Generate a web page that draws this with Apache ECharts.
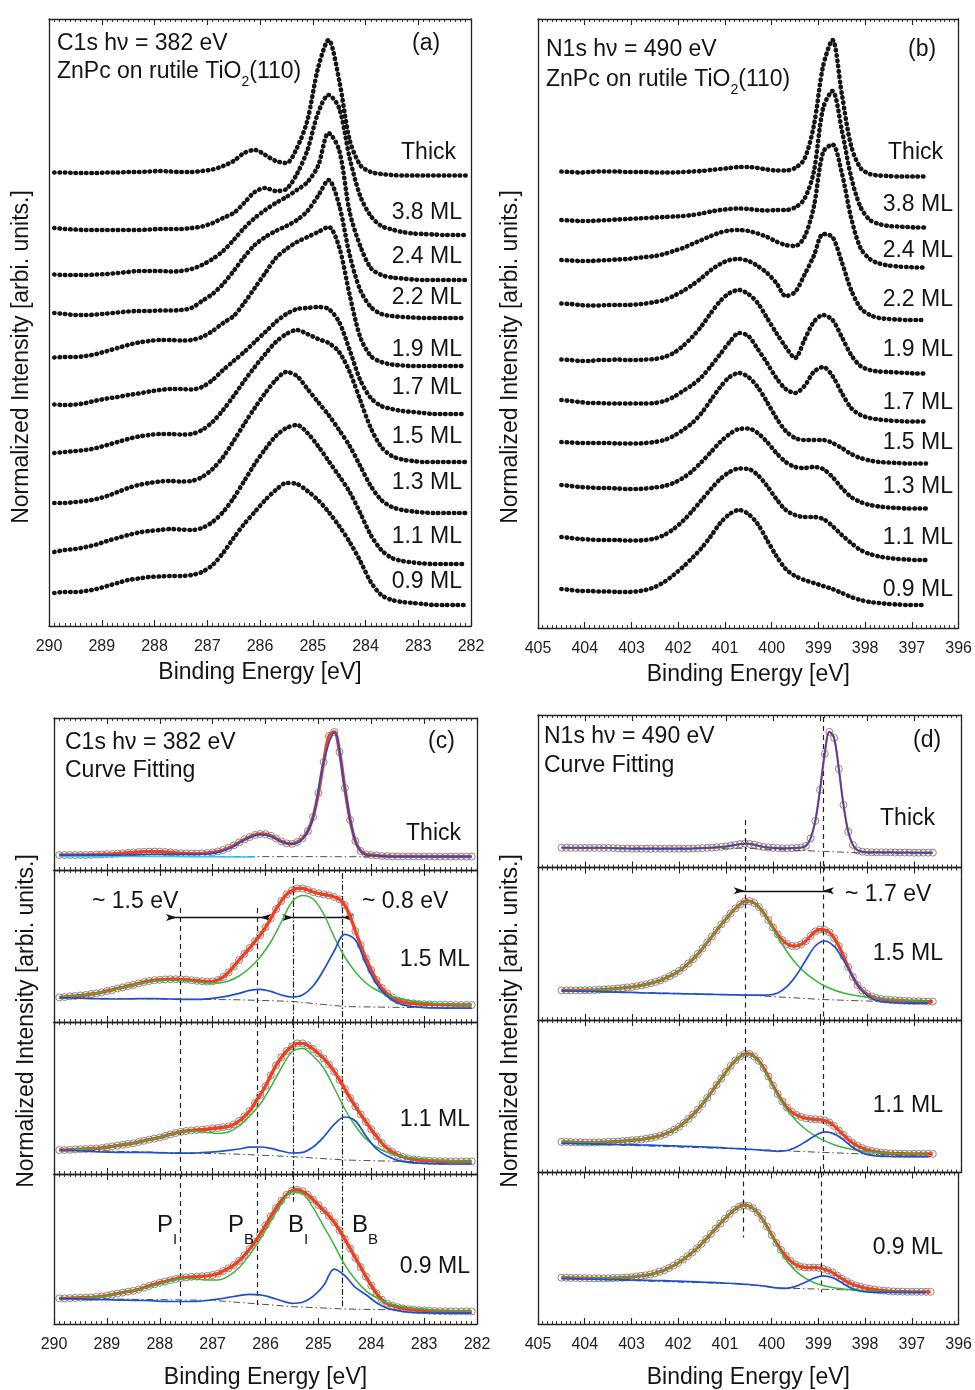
<!DOCTYPE html>
<html>
<head>
<meta charset="utf-8">
<script src="https://cdn.jsdelivr.net/npm/echarts@6/dist/echarts.min.js"></script>
<style>
  html, body { margin: 0; padding: 0; background: #fff; }
  #chart { width: 975px; height: 1390px; }
</style>
</head>
<body>
<div id="chart"></div>
<script>
// ---------- data ----------
// (a) C1s, binding energy grid (eV) and spectra (height above each curve's own baseline)
const energyA = [289.9,289.7,289.5,289.3,289.1,288.9,288.7,288.5,288.3,288.1,287.9,287.7,287.5,287.3,287.1,286.9,286.7,286.5,286.3,286.1,285.9,285.7,285.5,285.3,285.1,284.9,284.7,284.5,284.3,284.1,283.9,283.7,283.5,283.3,283.1,282.9,282.7,282.5,282.3,282.1];
const namesA = ['Thick','3.8 ML','2.4 ML','2.2 ML','1.9 ML','1.7 ML','1.5 ML','1.3 ML','1.1 ML','0.9 ML'];
const offsetsA = [90.1, 78.2, 69.2, 61.6, 52.0, 42.4, 32.8, 22.6, 12.4, 4.2];
const thickA = [0.6,0.6,0.5,0.5,0.5,0.6,0.6,0.7,0.7,0.8,0.9,0.8,0.7,0.7,0.9,1.2,1.9,2.9,4.5,5.1,4.1,2.9,2.5,5.5,11.1,21.5,27.1,19.1,7.1,2.1,0.7,0.3,0.1,0,0,0,0,0,0,0];
const ml38A = [1.4,1.2,1.1,1.0,1.0,1.0,1.0,1.0,1.0,1.1,1.2,1.2,1.2,1.4,1.7,2.4,3.4,4.4,6.4,8.6,9.4,8.8,9.2,12.2,17.0,24.4,28.0,25.4,15.4,7.8,3.8,1.8,1.1,0.6,0.3,0.2,0.1,0,0,0];
const ml24A = [1.1,1.0,1.0,1.0,1.1,1.2,1.4,1.6,1.8,1.8,1.8,1.7,1.8,2.2,3.0,4.2,5.8,8.0,10.4,12.4,14.0,15.4,16.6,18.0,19.6,22.8,29.4,26.0,13.6,6.8,2.4,1.0,0.5,0.3,0.1,0,0,0,0,0];
const ml22A = [1.0,0.8,0.6,0.6,0.7,0.9,1.1,1.3,1.4,1.4,1.5,1.5,1.6,2.0,3.4,4.8,6.8,9.4,12.2,14.6,16.2,17.4,18.4,19.6,21.4,24.4,27.6,22.6,12.6,5.6,2.2,0.8,0.4,0.2,0.1,0,0,0,0,0];
const ml19A = [1.7,1.8,1.8,2.0,2.4,3.0,3.6,4.2,4.7,5.0,5.2,5.2,5.1,5.2,5.8,7.0,8.6,10.0,12.6,15.6,18.6,21.6,23.4,24.8,25.8,26.8,27.8,23.8,14.2,5.8,2.0,0.8,0.3,0.1,0,0,0,0,0,0];
const ml17A = [1.9,1.8,1.9,2.2,2.7,3.1,3.4,3.8,4.1,4.5,4.8,5.0,5.0,4.9,5.4,6.8,8.8,10.6,12.4,14.4,16.4,18.4,20.0,21.0,21.2,21.4,21.0,18.4,12.8,6.8,3.2,1.6,1.0,0.6,0.4,0.2,0,0,0,0];
const ml15A = [1.8,2.0,2.2,2.4,2.8,3.4,4.0,4.6,5.1,5.4,5.6,5.6,5.5,5.6,6.4,8.0,10.4,13.2,16.2,19.0,21.6,24.0,25.6,26.4,25.6,24.6,23.8,22.0,18.0,12.4,6.8,3.0,1.2,0.5,0.2,0,0,0,0,0];
const ml13A = [2.0,2.0,2.2,2.4,2.8,3.4,4.2,5.0,5.6,6.0,6.3,6.4,6.3,6.4,7.2,8.8,11.2,14.4,17.8,21.0,24.0,26.6,28.2,27.4,24.8,22.2,19.6,16.6,13.4,9.4,5.4,2.6,1.2,0.6,0.3,0.1,0,0,0,0];
const ml11A = [2.4,2.8,3.0,3.4,3.9,4.6,5.2,5.8,6.3,6.6,6.8,7.0,6.9,6.8,7.2,8.4,10.4,13.2,16.6,20.0,23.0,25.6,27.2,27.8,26.2,23.6,20.6,17.6,14.4,10.2,5.8,2.8,1.2,0.6,0.3,0.1,0,0,0,0];
const ml09A = [2.4,2.6,2.6,2.8,3.2,3.8,4.4,5.0,5.3,5.6,5.7,5.8,5.8,6.0,6.6,8.0,10.4,13.4,16.2,18.6,21.0,23.0,24.4,24.2,22.8,21.0,18.6,15.8,12.6,8.8,4.6,2.0,1.0,0.6,0.4,0.2,0,0,0,0];

// (b) N1s
const energyB = [404.5,404.3,404.1,403.9,403.7,403.5,403.3,403.1,402.9,402.7,402.5,402.3,402.1,401.9,401.7,401.5,401.3,401.1,400.9,400.7,400.5,400.3,400.1,399.9,399.7,399.5,399.3,399.1,398.9,398.7,398.5,398.3,398.1,397.9,397.7,397.5,397.3,397.1,396.9,396.7];
const offsetsB = [90.3, 80.1, 72.1, 61.6, 50.9, 41.3, 32.9, 23.9, 13.6, 4.6];
const thickB = [1.0,0.9,0.8,0.9,1.0,1.0,1.0,0.9,0.9,0.9,0.8,0.8,0.8,0.9,1.0,1.1,1.3,1.5,1.7,1.9,1.9,1.7,1.4,1.2,1.2,1.7,3.5,10.1,22.1,27.3,16.5,6.1,1.7,0.5,0.2,0.1,0,0,0,0];
const ml38B = [1.5,1.4,1.3,1.3,1.4,1.5,1.6,1.7,1.8,1.9,2.0,2.1,2.2,2.3,2.5,2.8,3.2,3.5,3.7,3.8,3.7,3.5,3.4,3.5,3.5,4.0,5.7,11.1,23.9,27.3,19.5,10.1,4.1,1.5,0.7,0.3,0.2,0.1,0,0];
const ml24B = [1.5,1.4,1.3,1.3,1.4,1.5,1.6,1.7,1.9,2.1,2.3,2.7,3.3,3.9,4.7,5.5,6.3,7.0,7.4,7.5,7.3,6.8,6.1,5.2,4.5,4.3,6.1,12.1,23.1,24.6,18.9,9.9,3.9,1.7,0.8,0.4,0.2,0.1,0,0];
const ml22B = [3.3,3.2,3.0,2.9,2.9,3.0,3.0,3.0,3.1,3.3,3.6,4.0,4.8,5.8,7.0,8.4,10.0,11.2,12.0,12.2,11.8,10.8,9.4,7.4,4.8,5.6,9.0,12.8,17.2,16.6,11.6,6.0,2.4,1.0,0.4,0.2,0.1,0,0,0];
const ml19B = [2.8,2.7,2.5,2.5,2.7,2.7,2.8,2.7,2.7,2.8,2.9,3.3,4.1,5.5,7.3,9.5,12.1,14.5,16.1,16.7,15.9,14.1,11.1,8.1,5.3,3.1,6.7,10.3,11.7,10.7,7.3,3.7,1.5,0.7,0.4,0.3,0.2,0.1,0,0];
const ml17B = [4.3,4.1,3.9,3.7,3.7,3.6,3.6,3.6,3.6,3.6,3.7,4.1,4.9,6.1,7.3,8.9,11.1,13.5,15.9,17.7,17.1,14.5,11.7,8.7,6.5,5.7,7.1,9.9,10.9,9.1,5.7,2.7,1.3,0.7,0.4,0.2,0.1,0,0,0];
const ml15B = [4.3,4.2,4.1,4.1,4.1,4.1,4.0,4.0,4.0,4.1,4.3,4.7,5.5,6.7,8.1,10.1,12.7,15.3,17.3,18.1,17.3,15.3,12.3,9.1,6.5,5.1,4.7,4.7,4.7,4.1,3.1,1.9,1.1,0.6,0.3,0.2,0.1,0,0,0];
const ml13B = [4.7,4.5,4.3,4.2,4.1,4.1,4.0,3.9,3.9,4.0,4.2,4.5,5.1,6.1,7.5,9.3,11.3,13.3,14.9,15.9,16.0,15.1,13.3,11.1,9.3,8.3,8.1,8.3,7.9,6.3,4.1,2.3,1.3,0.7,0.4,0.2,0.1,0,0,0];
const ml11B = [4.6,4.4,4.2,4.1,4.0,4.0,4.0,3.9,3.9,4.0,4.3,5.0,6.2,7.8,9.8,12.0,14.2,16.2,17.6,18.3,18.2,17.0,14.8,12.2,10.0,9.0,8.6,8.6,8.2,6.8,5.0,3.4,2.0,1.2,0.7,0.4,0.2,0.1,0,0];
const ml09B = [3.2,3.0,2.8,2.8,2.7,2.7,2.6,2.6,2.7,3.0,3.6,4.6,6.0,7.6,9.4,11.4,13.8,16.4,18.2,19.0,18.2,16.2,13.0,9.8,7.2,5.8,5.0,4.4,3.8,3.2,2.4,1.6,1.0,0.6,0.4,0.2,0.1,0,0,0];

// (c) C1s curve fitting: measured points (0.1 eV) and fitted components (0.2 eV, on energyA)
const namesC = ['Thick','1.5 ML','1.1 ML','0.9 ML'];
const energyC = [289.9,289.8,289.7,289.6,289.5,289.4,289.3,289.2,289.1,289.0,288.9,288.8,288.7,288.6,288.5,288.4,288.3,288.2,288.1,288.0,287.9,287.8,287.7,287.6,287.5,287.4,287.3,287.2,287.1,287.0,286.9,286.8,286.7,286.6,286.5,286.4,286.3,286.2,286.1,286.0,285.9,285.8,285.7,285.6,285.5,285.4,285.3,285.2,285.1,285.0,284.9,284.8,284.7,284.6,284.5,284.4,284.3,284.2,284.1,284.0,283.9,283.8,283.7,283.6,283.5,283.4,283.3,283.2,283.1,283.0,282.9,282.8,282.7,282.6,282.5,282.4,282.3,282.2,282.1];
const cThick = [7.5,7.5,7.5,7.5,7.5,7.5,7.6,7.7,7.8,7.9, 8.0,8.2,8.4,8.6,8.8,9.0,9.1,9.2,9.2,9.2, 9.0,8.8,8.6,8.4,8.3,8.2,8.2,8.3,8.5,8.8, 9.3,10.0,11.0,12.3,13.8,15.3,16.5,17.5,18.0,17.9, 17.1,15.8,14.3,13.3,13.1,14.0,15.8,19.5,26.5,38.5, 54.0,67.0,69.0,59.0,41.0,25.0,14.5,9.5,7.8,7.5, 7.3,7.0,6.9,6.8,6.8,6.8,6.8,6.8,6.8,6.7, 6.7,6.7,6.7,6.7,6.7,6.7,6.7,6.7,6.7];
const c15 = [12.3,12.5,12.8,13.0,13.3,13.5,14.0,14.3,14.8,15.5, 16.0,16.8,17.3,18.0,18.5,19.3,20.0,20.5,20.9,21.1, 21.3,21.4,21.4,21.3,21.2,20.9,20.6,20.4,20.2,20.3, 21.0,22.5,24.8,27.8,31.0,34.0,37.0,40.3,43.5,47.3, 51.8,56.5,60.5,63.8,65.8,66.8,66.8,66.0,65.0,64.3, 63.8,63.3,62.5,61.3,58.5,52.8,45.5,38.5,31.8,26.0, 21.0,17.0,14.3,12.3,10.8,10.0,9.5,9.3,9.0,8.9, 8.8,8.7,8.7,8.6,8.6,8.5,8.5,8.5,8.5];
const c11 = [12.0,12.0,12.1,12.3,12.4,12.5,12.7,12.8,13.0,13.4, 13.8,14.2,14.6,15.0,15.4,16.0,16.6,17.2,17.7,18.3, 19.0,19.8,20.5,21.1,21.5,21.8,22.0,22.2,22.4,22.8, 23.0,23.4,23.8,24.8,26.5,28.8,31.5,35.5,39.5,44.0, 49.3,54.3,58.3,61.5,63.8,65.3,65.3,64.3,62.5,60.3, 57.8,54.8,51.3,47.0,42.5,38.0,33.8,29.8,26.0,22.3, 18.8,15.5,12.8,11.0,9.5,8.5,7.8,7.3,7.0,6.8, 6.6,6.5,6.4,6.4,6.3,6.3,6.3,6.3,6.3];
const c09 = [13.0,13.0,13.1,13.2,13.3,13.4,13.5,13.7,14.0,14.4, 14.9,15.4,15.9,16.4,16.8,17.5,18.4,19.3,20.1,20.9, 21.5,22.2,22.8,23.3,23.6,23.9,24.0,24.2,24.4,24.8, 25.5,26.8,28.2,29.8,32.0,34.8,38.0,41.5,45.5,50.0, 54.5,58.8,62.5,65.5,67.5,68.0,67.3,65.5,63.0,60.3, 57.5,54.8,51.5,47.5,43.0,38.3,33.5,28.8,24.0,19.5, 15.5,12.3,10.3,9.3,8.5,7.9,7.5,7.2,7.0,6.9, 6.7,6.6,6.5,6.5,6.4,6.4,6.4,6.4,6.4];
const cThickBlue = [7.4,7.4,7.4,7.4,7.4,7.4,7.5,7.6,7.7,7.8,7.8,7.8,7.8,7.8,8.0,8.8,10.6,13.5,16.3,17.8,17.0,14.2,13.0,15.6,26.3,53.8,68.8,40.8,14.3,7.6,7.1,6.8,6.7,6.7,6.7,6.7,6.7,6.7,6.7,6.7];
const c15Green = [12.3,12.8,13.3,14.0,14.8,16.0,17.3,18.5,19.8,20.5,20.8,20.8,20.5,20.0,19.5,19.5,20.5,23.0,27.0,32.5,40.0,50.0,60.0,63.3,61.5,54.0,42.5,32.5,25.0,19.5,16.0,13.5,12.0,10.8,10.0,9.5,9.1,8.9,8.7,8.5];
const c15Blue = [12.2,12.0,11.9,11.7,11.6,11.5,11.5,11.6,11.7,11.7,11.6,11.4,11.3,11.3,11.6,12.2,13.1,14.3,15.8,16.3,15.3,13.5,12.5,13.5,18.0,26.0,35.5,43.8,41.0,29.0,19.0,13.0,9.5,8.0,7.4,7.1,7.0,6.9,6.9,6.9];
const c11Green = [12.0,12.1,12.4,12.7,13.0,13.8,14.6,15.5,16.5,17.7,19.0,20.5,21.3,21.3,20.8,20.3,21.0,24.0,29.0,35.0,43.5,53.0,61.0,62.8,59.0,53.0,43.0,32.5,24.0,17.5,13.5,10.8,9.3,8.3,7.8,7.3,6.9,6.6,6.4,6.3];
const c11Blue = [12.0,11.8,11.5,11.3,11.0,10.9,10.8,10.8,10.8,10.7,10.5,10.4,10.4,10.5,10.8,11.2,11.8,12.5,13.4,13.5,12.8,11.5,10.5,10.8,13.5,18.5,24.8,28.5,26.5,19.0,12.5,9.0,6.8,5.8,5.4,5.2,5.1,5.0,5.0,5.0];
const c09Green = [13.0,13.0,13.2,13.4,13.8,14.6,15.6,16.8,18.1,19.5,21.0,22.5,23.0,22.8,22.3,22.3,24.3,28.5,35.0,43.0,52.0,60.8,67.0,66.0,59.0,49.5,40.0,30.0,22.5,16.8,13.3,10.8,9.3,8.4,7.8,7.3,6.9,6.7,6.5,6.4];
const c09Blue = [13.0,12.9,12.7,12.5,12.4,12.2,12.1,12.0,11.9,11.7,11.5,11.4,11.4,11.5,11.9,12.6,13.5,14.4,15.0,14.8,13.5,11.8,10.5,11.0,14.0,19.5,27.8,24.5,18.5,14.8,10.8,8.0,6.8,6.0,5.7,5.6,5.5,5.5,5.5,5.5];
const cThickCyanE = [289.9, 288.5, 287.2, 286.2];
const cThickCyan = [6.7, 6.7, 6.6, 6.5];
const cBgE = [[289.9, 286.2, 282.1], [289.9, 286.5, 285.5, 284.5, 282.1], [289.9, 286.6, 285.5, 284.5, 282.1], [289.9, 287.0, 285.5, 284.5, 282.1]];
const cBg = [[6.9, 6.7, 6.6], [12.1, 11.1, 10.3, 7.7, 6.8], [12.0, 10.0, 8.7, 7.0, 5.4], [13.0, 12.0, 8.8, 7.6, 6.4]];
const cMarks = [287.62, 286.16, 285.47, 284.54];   // P_I, P_B, B_I, B_B

// (d) N1s curve fitting (points on 0.1 eV grid, components on energyB)
const energyD = [404.5,404.4,404.3,404.2,404.1,404.0,403.9,403.8,403.7,403.6,403.5,403.4,403.3,403.2,403.1,403.0,402.9,402.8,402.7,402.6,402.5,402.4,402.3,402.2,402.1,402.0,401.9,401.8,401.7,401.6,401.5,401.4,401.3,401.2,401.1,401.0,400.9,400.8,400.7,400.6,400.5,400.4,400.3,400.2,400.1,400.0,399.9,399.8,399.7,399.6,399.5,399.4,399.3,399.2,399.1,399.0,398.9,398.8,398.7,398.6,398.5,398.4,398.3,398.2,398.1,398.0,397.9,397.8,397.7,397.6,397.5,397.4,397.3,397.2,397.1,397.0,396.9,396.8,396.7,396.6];
const dThick = [9.9,9.9,9.8,9.8,9.8,9.8,9.8,9.8,9.8,9.8, 9.8,9.7,9.6,9.5,9.5,9.4,9.4,9.4,9.4,9.4, 9.4,9.4,9.4,9.4,9.4,9.4,9.4,9.4,9.5,9.6, 9.7,9.8,9.9,10.1,10.3,10.5,10.9,11.3,11.7,11.9, 11.8,11.4,10.8,10.3,10.0,9.8,9.7,9.6,9.6,9.7, 9.8,10.0,10.8,14.6,23.3,38.8,56.8,67.8,64.8,49.3, 31.3,17.9,11.3,8.6,7.9,7.7,7.6,7.6,7.6,7.6, 7.6,7.5,7.5,7.5,7.5,7.4,7.4,7.4,7.4,7.4];
const d15 = [14.8,14.8,14.8,14.8,14.8,14.9,14.9,15.0,15.1,15.3, 15.4,15.6,15.8,16.0,16.3,16.5,16.9,17.3,17.8,18.4, 19.0,19.8,20.8,21.9,23.1,24.5,26.3,28.3,30.5,33.0, 35.8,38.8,41.8,44.8,47.8,50.5,53.3,55.8,57.8,59.3, 59.5,58.5,56.5,53.5,50.0,46.3,42.8,40.0,38.0,37.0, 37.0,37.8,39.5,42.0,44.3,45.3,45.0,43.8,41.0,37.0, 32.0,26.5,21.5,17.5,14.8,13.0,11.8,11.0,10.5,10.2, 10.0,9.9,9.7,9.6,9.5,9.4,9.4,9.3,9.2,9.2];
const d11 = [15.3,15.3,15.2,15.1,15.1,15.0,15.0,15.0,15.1,15.2, 15.3,15.4,15.5,15.7,15.9,16.1,16.3,16.5,16.9,17.3, 17.8,18.4,19.2,20.2,21.4,22.9,24.7,26.8,29.0,31.5, 34.3,37.3,40.5,43.8,47.0,50.3,53.3,56.0,58.0,59.3, 59.3,58.0,55.8,52.3,48.0,43.5,39.3,35.5,32.5,30.3, 28.8,27.8,27.1,26.8,26.6,26.5,26.0,25.0,23.3,21.0, 18.8,16.5,14.7,13.3,12.2,11.4,10.8,10.3,10.0,9.8, 9.6,9.5,9.4,9.4,9.3,9.3,9.3,9.3,9.3,9.3];
const d09 = [23.3,23.3,23.2,23.2,23.1,23.1,23.0,23.0,23.0,23.0, 23.0,23.1,23.2,23.3,23.4,23.6,23.9,24.2,24.5,24.9, 25.5,26.3,27.1,28.2,29.4,30.8,32.4,34.1,36.0,38.1, 40.4,42.8,45.4,48.0,50.6,53.0,55.4,57.5,59.0,59.8, 59.5,58.3,56.0,52.8,49.0,44.8,40.8,37.3,34.3,31.8, 30.0,29.0,28.5,28.4,28.4,28.3,27.8,27.0,25.9,24.4, 22.8,21.4,20.3,19.4,18.7,18.1,17.7,17.3,17.0,16.8, 16.6,16.4,16.3,16.3,16.2,16.2,16.2,16.2,16.2,16.2];
const d15Green = [14.8,14.8,14.8,14.9,15.1,15.4,15.8,16.3,16.9,17.8,19.0,20.8,23.1,26.3,30.5,35.8,41.8,47.8,53.3,57.8,59.3,56.3,49.5,41.5,34.0,28.0,23.3,19.8,17.0,15.0,13.5,12.5,11.8,11.2,10.7,10.3,9.9,9.6,9.4,9.2];
const d15Blue = [14.7,14.5,14.4,14.3,14.2,14.0,13.9,13.8,13.7,13.5,13.4,13.3,13.2,13.1,13.0,12.9,12.8,12.7,12.6,12.5,12.4,12.4,12.5,13.5,16.8,22.5,30.0,37.0,39.5,36.8,30.0,21.5,14.5,10.8,9.3,8.8,8.5,8.4,8.4,8.4];
const d11Green = [15.3,15.2,15.1,15.0,15.1,15.3,15.5,15.9,16.3,16.9,17.8,19.2,21.4,24.7,29.0,34.3,40.5,47.0,53.3,58.0,59.0,55.3,47.3,38.5,31.3,25.8,21.5,18.3,15.8,13.9,12.5,11.5,10.8,10.3,9.9,9.6,9.4,9.3,9.2,9.1];
const d11Blue = [14.6,14.5,14.4,14.3,14.2,14.1,14.0,13.9,13.8,13.7,13.6,13.4,13.3,13.1,13.0,12.8,12.6,12.4,12.1,11.9,11.6,11.3,10.9,10.6,11.0,12.8,15.5,18.5,20.3,19.3,16.3,12.5,9.8,8.5,8.1,8.0,7.9,7.9,7.9,7.9];
const d09Green = [23.3,23.2,23.1,23.0,23.0,23.0,23.2,23.4,23.9,24.5,25.5,27.1,29.4,32.4,36.0,40.4,45.4,50.6,55.4,59.0,59.4,55.8,48.5,40.0,32.5,27.0,23.3,20.9,19.4,18.4,17.7,17.2,16.8,16.6,16.4,16.2,16.1,16.1,16.0,16.0];
const d09Blue = [22.9,22.8,22.7,22.6,22.5,22.4,22.3,22.2,22.1,22.0,21.9,21.8,21.6,21.5,21.3,21.1,20.9,20.7,20.5,20.2,19.9,19.5,18.9,18.2,17.9,18.8,20.8,23.0,24.2,23.3,20.8,18.0,16.5,16.0,15.9,15.9,15.9,15.9,15.9,15.9];
const dBgE = [[404.5, 400.6, 398.0, 396.6], [404.5, 400.6, 398.9, 396.6], [404.5, 400.6, 398.9, 396.6], [404.5, 400.6, 399.9, 396.6]];
const dBg = [[9.9, 9.6, 7.2, 7.1], [14.7, 12.5, 10.2, 8.4], [14.6, 11.7, 10.0, 8.0], [22.9, 20.1, 18.2, 15.9]];
const dMarks = [400.6, 398.94];
const xTicksC = [290, 282];   // axis range, 1 eV steps
const xTicksD = [405, 396];

// ---------- layout / style ----------
const FONT = '"Liberation Sans", Arial, Helvetica, sans-serif';
const INK = '#141414';
const AX = '#222222';
const RED = '#f0401e', GREEN = '#3cb43c', BLUE = '#1f4fcf', CYAN = '#35c4ea', CIRC = '#6c6c6c';
const ARROW = 'path://M5,12L0,0L5,3L10,0Z';

const specA = [thickA, ml38A, ml24A, ml22A, ml19A, ml17A, ml15A, ml13A, ml11A, ml09A];
const specB = [thickB, ml38B, ml24B, ml22B, ml19B, ml17B, ml15B, ml13B, ml11B, ml09B];

const grids = [
  { left: 49, top: 19, width: 422, height: 607 },
  { left: 538, top: 19, width: 423, height: 609 }
];
for (let k = 0; k < 4; k++) grids.push({ left: 54, top: 718 + 152 * k, width: 423, height: 152 });
for (let k = 0; k < 4; k++) grids.push({ left: 538, top: 715 + 152.5 * k, width: 423, height: 152.5 });
grids.forEach(g => { g.show = false; g.containLabel = false; });
const yMax = [121.4, 121.8, 76, 76, 76, 76, 76.25, 76.25, 76.25, 76.25];

function xAx(grid, pos, range, labels, name, gap) {
  return {
    type: 'value', gridIndex: grid, position: pos, inverse: true,
    min: range[1], max: range[0], interval: 1, z: 10,
    axisLine: { show: true, onZero: false, lineStyle: { color: AX, width: 1.3 } },
    axisTick: { show: true, inside: true, length: 6, lineStyle: { color: AX, width: 1.1 } },
    minorTick: { show: true, splitNumber: 10, length: 3, lineStyle: { color: AX, width: 0.9 } },
    splitLine: { show: false }, minorSplitLine: { show: false },
    axisLabel: { show: labels, fontFamily: FONT, fontSize: 16, color: '#222', margin: 13, showMinLabel: true, showMaxLabel: true },
    name: name || '', nameLocation: 'middle', nameGap: gap || 0,
    nameTextStyle: { fontFamily: FONT, fontSize: 23, color: INK }
  };
}
function yAx(grid, pos, max) {
  return { type: 'value', gridIndex: grid, position: pos, min: 0, max: max, z: 10,
    axisLine: { show: true, onZero: false, lineStyle: { color: AX, width: 1.3 } },
    axisTick: { show: false }, axisLabel: { show: false }, splitLine: { show: false } };
}

const xAxes = [], yAxes = [];
grids.forEach((g, i) => {
  const range = (i === 0 || (i >= 2 && i <= 5)) ? xTicksC : xTicksD;
  const bottomMost = i === 0 || i === 1 || i === 5 || i === 9;
  const gap = (i <= 1) ? 35 : 42;
  xAxes.push(xAx(i, 'bottom', range, bottomMost, bottomMost ? 'Binding Energy [eV]' : '', gap));
  xAxes.push(xAx(i, 'top', range, false));
  yAxes.push(yAx(i, 'left', yMax[i]));
  yAxes.push(yAx(i, 'right', yMax[i]));
});

const series = [];
function pairs(es, vs, off) { return es.map((e, k) => [e, +((off || 0) + vs[k]).toFixed(2)]); }
function dotted(g, es, vs, off) {
  return { type: 'line', xAxisIndex: 2 * g, yAxisIndex: 2 * g, data: pairs(es, vs, off), smooth: 0.3,
    showSymbol: false, symbol: 'none', silent: true, z: 3,
    lineStyle: { color: INK, width: 4.6, type: [0.5, 4.8], cap: 'round' } };
}
function curve(g, es, vs, color, width, z, extra) {
  return Object.assign({ type: 'line', xAxisIndex: 2 * g, yAxisIndex: 2 * g, data: pairs(es, vs), smooth: 0.35,
    showSymbol: false, symbol: 'none', silent: true, z: z,
    lineStyle: { color: color, width: width } }, extra || {});
}
function circles(g, es, vs) {
  return { type: 'scatter', xAxisIndex: 2 * g, yAxisIndex: 2 * g, data: pairs(es, vs), symbol: 'circle', symbolSize: 7,
    silent: true, z: 2, itemStyle: { color: 'rgba(255,255,255,0)', borderColor: CIRC, borderWidth: 1 } };
}
function vsegs(list) {
  return list.map(s => [{ coord: [s[0], s[1]], lineStyle: { type: s[3] } }, { coord: [s[0], s[2]] }]);
}
function bgLine(g, es, vs, marks) {
  const o = curve(g, es, vs, '#3a3a3a', 0.9, 4, { smooth: false });
  o.lineStyle.type = [7, 3, 1.5, 3];
  if (marks && marks.length) {
    o.markLine = { silent: true, symbol: ['none', 'none'], label: { show: false }, animation: false,
      lineStyle: { color: '#222', width: 1.2, type: [5, 4] }, data: vsegs(marks) };
  }
  return o;
}
function arrows(list) {
  return { silent: true, symbol: [ARROW, ARROW], symbolSize: [7, 11], label: { show: false }, animation: false,
    lineStyle: { color: '#111', width: 1.3, type: 'solid' },
    data: list.map(a => [{ coord: [a[0], a[2]] }, { coord: [a[1], a[2]] }]) };
}

// (a) and (b)
specA.forEach((s, i) => series.push(dotted(0, energyA, s, offsetsA[i])));
specB.forEach((s, i) => series.push(dotted(1, energyB, s, offsetsB[i])));

// (c)
const dashA = [5, 4], dashB = [6, 2, 1.5, 2];
const cMarkSegs = [
  [],
  [[cMarks[0], 57, 0, dashA], [cMarks[1], 57, 0, dashA], [cMarks[2], 72, 0, dashB], [cMarks[3], 74.5, 0, dashB]],
  [[cMarks[0], 76, 0, dashA], [cMarks[1], 76, 0, dashA], [cMarks[2], 76, 0, dashB], [cMarks[3], 76, 0, dashB]],
  [[cMarks[0], 76, 9, dashA], [cMarks[1], 76, 9, dashA], [cMarks[2], 76, 62, dashB], [cMarks[3], 76, 9, dashB]]
];
const cPts = [cThick, c15, c11, c09];
const cGreens = [null, c15Green, c11Green, c09Green];
const cBlues = [cThickBlue, c15Blue, c11Blue, c09Blue];
for (let k = 0; k < 4; k++) {
  const g = 2 + k;
  series.push(circles(g, energyC, cPts[k]));
  series.push(curve(g, energyC, cPts[k], RED, 3.4, 5));
  if (k === 0) series.push(curve(g, cThickCyanE, cThickCyan, CYAN, 1.4, 6, { smooth: true }));
  if (cGreens[k]) series.push(curve(g, energyA, cGreens[k], GREEN, 1.5, 6));
  const b = curve(g, energyA, cBlues[k], BLUE, 1.7, 7);
  if (k === 1) b.markLine = arrows([[287.78, 286.0, 52.2], [285.58, 284.44, 52.2]]);
  series.push(b);
  series.push(bgLine(g, cBgE[k], cBg[k], cMarkSegs[k]));
}

// (d)
const dMarkSegs = [
  [[dMarks[0], 23.75, 0, dashA], [dMarks[1], 75.25, 0, dashA]],
  [[dMarks[0], 76.25, 0, dashA], [dMarks[1], 76.25, 0, dashA]],
  [[dMarks[0], 76.25, 0, dashA], [dMarks[1], 76.25, 0, dashA]],
  [[dMarks[0], 76.25, 43.5, dashA], [dMarks[1], 76.25, 16, dashA]]
];
const dPts = [dThick, d15, d11, d09];
const dGreens = [null, d15Green, d11Green, d09Green];
const dBlues = [null, d15Blue, d11Blue, d09Blue];
for (let k = 0; k < 4; k++) {
  const g = 6 + k;
  series.push(circles(g, energyD, dPts[k]));
  series.push(curve(g, energyD, dPts[k], RED, k === 0 ? 2.2 : 3.2, 5));
  if (dGreens[k]) series.push(curve(g, energyB, dGreens[k], GREEN, 1.5, 6));
  const b = k === 0 ? curve(g, energyD, dThick, BLUE, 1.4, 7) : curve(g, energyB, dBlues[k], BLUE, 1.7, 7);
  if (k === 1) b.markLine = arrows([[400.72, 398.82, 64.6]]);
  series.push(b);
  series.push(bgLine(g, dBgE[k], dBg[k], dMarkSegs[k]));
}

// ---------- text ----------
function T(x, y, text, o) {
  o = o || {};
  return { type: 'text', x: x, y: y, rotation: o.rot || 0, silent: true, z: 100,
    style: { text: text, fontFamily: FONT, fontSize: o.size || 23, fill: INK, lineHeight: o.lh,
      textAlign: o.align || 'left', textVerticalAlign: 'middle', align: o.align || 'left', verticalAlign: 'middle',
      rich: o.rich } };
}
const subRich = { s: { fontFamily: FONT, fontSize: 14, lineHeight: 14, verticalAlign: 'bottom', fill: INK } };
const pRich = { m: { fontFamily: FONT, fontSize: 24, lineHeight: 44, fill: INK },
                s: { fontFamily: FONT, fontSize: 15, lineHeight: 15, verticalAlign: 'bottom', fill: INK } };
const yTitle = 'Normalized Intensity [arbi. units.]';
const labelPosA = [[456,153],[462,213],[462,257],[462,298],[462,350],[462,388],[462,437],[462,483],[462,537],[462,582]];
const labelPosB = [[943,153],[953,205],[953,251],[953,300],[953,350],[953,403],[953,443],[953,487],[953,538],[953,590]];
const labelPosC = [[461,834],[470,960],[470,1120],[470,1267]];
const labelPosD = [[935,819],[943,954],[943,1106],[943,1248]];

const graphic = [
  T(57, 44, 'C1s h\u03bd = 382 eV'),
  T(57, 72, 'ZnPc on rutile TiO{s|2}(110)', { rich: subRich, lh: 34 }),
  T(412, 44, '(a)'),
  T(546, 50, 'N1s h\u03bd = 490 eV'),
  T(546, 80, 'ZnPc on rutile TiO{s|2}(110)', { rich: subRich, lh: 34 }),
  T(908, 50, '(b)'),
  T(65, 743, 'C1s h\u03bd = 382 eV'),
  T(65, 771, 'Curve Fitting'),
  T(428, 742, '(c)'),
  T(544, 737, 'N1s h\u03bd = 490 eV'),
  T(544, 766, 'Curve Fitting'),
  T(913, 741, '(d)'),
  T(92, 902, '~ 1.5 eV'),
  T(362, 902, '~ 0.8 eV'),
  T(845, 895, '~ 1.7 eV'),
  T(157, 1225, '{m|P}{s|I}', { rich: pRich, lh: 44 }),
  T(228, 1225, '{m|P}{s|B}', { rich: pRich, lh: 44 }),
  T(288, 1225, '{m|B}{s|I}', { rich: pRich, lh: 44 }),
  T(352, 1225, '{m|B}{s|B}', { rich: pRich, lh: 44 }),
  T(22, 357, yTitle, { rot: Math.PI / 2, align: 'center' }),
  T(511, 357, yTitle, { rot: Math.PI / 2, align: 'center' }),
  T(27, 1021, yTitle, { rot: Math.PI / 2, align: 'center' }),
  T(511, 1021, yTitle, { rot: Math.PI / 2, align: 'center' })
];
namesA.forEach((n, i) => {
  graphic.push(T(labelPosA[i][0], labelPosA[i][1], n, { align: 'right' }));
  graphic.push(T(labelPosB[i][0], labelPosB[i][1], n, { align: 'right' }));
});
namesC.forEach((n, i) => {
  graphic.push(T(labelPosC[i][0], labelPosC[i][1], n, { align: 'right' }));
  graphic.push(T(labelPosD[i][0], labelPosD[i][1], n, { align: 'right' }));
});

const chart = echarts.init(document.getElementById('chart'), null, { renderer: 'canvas' });
chart.setOption({
  backgroundColor: '#ffffff',
  animation: false,
  textStyle: { fontFamily: FONT },
  grid: grids,
  xAxis: xAxes,
  yAxis: yAxes,
  series: series,
  graphic: graphic
});
</script>
</body>
</html>
